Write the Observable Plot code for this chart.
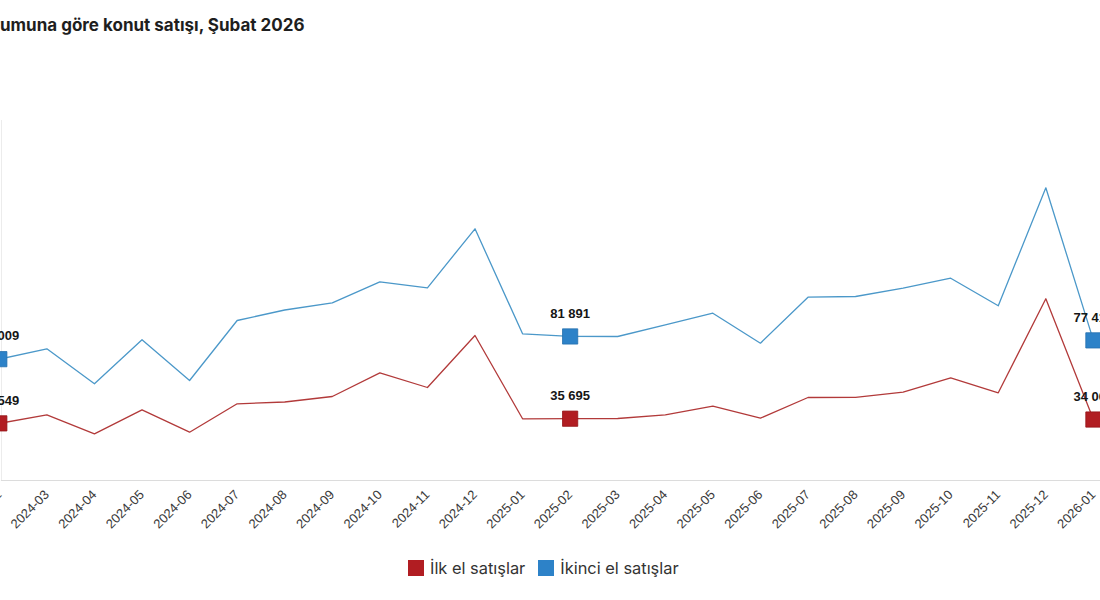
<!DOCTYPE html>
<html>
<head>
<meta charset="utf-8">
<script src="https://cdn.jsdelivr.net/npm/d3@7"></script>
<script src="https://cdn.jsdelivr.net/npm/@observablehq/plot@0.6"></script>
<style>
  html, body { margin: 0; padding: 0; background: #fff; overflow: hidden; width: 1100px; height: 600px; }
  #title { position: absolute; top: 15px; white-space: nowrap; font: 700 17px Inter, sans-serif; line-height: 20px; color: #1e1e1e; }
  #chart { position: absolute; top: 100px; }
  #chart svg { max-width: none !important; }
  #legend { position: absolute; top: 558px; left: 408px; display: flex; align-items: center; font: 400 16.4px Inter, sans-serif; color: #333; white-space: nowrap; }
  #legend .sw { display: inline-block; width: 16px; height: 16px; margin-right: 6px; }
  #legend .item { display: flex; align-items: center; margin-right: 13px; }
</style>
</head>
<body>
<div id="title">Satış durumuna göre konut satışı, Şubat 2026</div>
<div id="chart"></div>
<div id="legend"></div>
<script>
// ---- data ----
const months = ["2024-02","2024-03","2024-04","2024-05","2024-06","2024-07","2024-08","2024-09","2024-10","2024-11","2024-12",
  "2025-01","2025-02","2025-03","2025-04","2025-05","2025-06","2025-07","2025-08","2025-09","2025-10","2025-11","2025-12",
  "2026-01","2026-02"];
const ilkEl = [26549, 43310, 6146, 53090, 9275, 64826, 68347, 79105, 125462, 96709, 198421,
  35486, 35695, 36073, 43310, 60131, 36659, 77149, 77540, 87515, 115682, 86342, 270206, 34062];
const ikinciEl = [56009, 67817, 27935, 78072, 31695, 100065, 112030, 120234, 144163, 137326, 204557,
  84909, 81891, 81833, 95165, 108383, 74198, 126615, 127413, 136871, 148266, 116815, 251276, 77412];
const seriesNames = ["İlk el satışlar", "İkinci el satışlar"];
const seriesColors = ["#b11d22", "#2d82c8"];
const lineColors = ["#b23a3a", "#4b98c9"];
const labeledMonths = ["2024-02", "2025-02", "2026-01"];
// hidden dual value axes (left: ikinci el, right: ilk el)
const yDomainIkinci = [-82255, 327965];
const yDomainIlk = [-85199, 618961];

// ---- build ----
const rows = ikinciEl.map((v, i) => ({month: months[i], ilk: ilkEl[i], ikinci: v}));
const ilkToY = d3.scaleLinear(yDomainIlk, yDomainIkinci);
const fmt = d3.formatLocale({decimal: ",", thousands: " ", grouping: [3]}).format(",d");
const labeled = rows.filter(d => labeledMonths.includes(d.month));

const step = 47.57, ML = 60, MR = 40;
const x0 = ML - 2.2;
const W = Math.ceil(x0 + step * (months.length - 1) + MR);

const chart = Plot.plot({
  width: W,
  height: 460,
  marginLeft: ML,
  marginRight: MR,
  marginTop: 20,
  marginBottom: 80,
  style: {fontFamily: "'Liberation Sans', Arial, sans-serif", background: "transparent", overflow: "visible", maxWidth: "none"},
  x: {type: "point", domain: months, padding: 0, align: 0.5, round: false, range: [x0, x0 + step * (months.length - 1)], label: null},
  y: {domain: yDomainIkinci, axis: null},
  marks: [
    Plot.frame({anchor: "left", stroke: "#ececec"}),
    Plot.frame({anchor: "bottom", stroke: "#dcdcdc", strokeWidth: 1.2}),
    Plot.axisX({tickRotate: -45, tickSize: 0, tickPadding: 12, fontSize: 13, fill: "#3a3a3a", label: null}),
    Plot.lineY(rows, {x: "month", y: "ikinci", stroke: lineColors[1], strokeWidth: 1.3}),
    Plot.lineY(rows, {x: "month", y: d => ilkToY(d.ilk), stroke: lineColors[0], strokeWidth: 1.3}),
    Plot.dot(labeled, {x: "month", y: "ikinci", symbol: "square", r: 8.6, fill: seriesColors[1], stroke: "#2670ad", strokeWidth: 0.8}),
    Plot.dot(labeled, {x: "month", y: d => ilkToY(d.ilk), symbol: "square", r: 8.6, fill: seriesColors[0], stroke: "#931418", strokeWidth: 0.8}),
    Plot.text(labeled, {x: "month", y: "ikinci", text: d => fmt(d.ikinci), dy: -23, fontSize: 13, fontWeight: "bold", fill: "#161616"}),
    Plot.text(labeled, {x: "month", y: d => ilkToY(d.ilk), text: d => fmt(d.ilk), dy: -23, fontSize: 13, fontWeight: "bold", fill: "#161616"})
  ]
});
chart.style.maxWidth = "none";
chart.setAttribute("width", W);
chart.setAttribute("height", 460);
const holder = document.getElementById("chart");
holder.style.left = (1 - ML) + "px";
holder.style.width = W + "px";
holder.appendChild(chart);

// title: the chart is cropped on the left, as in the reference
const title = document.getElementById("title");
const ctx = document.createElement("canvas").getContext("2d");
ctx.font = "700 17px Inter";
title.style.left = (-ctx.measureText("Satış dur").width) + "px";

// legend
const legend = document.getElementById("legend");
seriesNames.forEach((name, i) => {
  const item = document.createElement("span");
  item.className = "item";
  const sw = document.createElement("span");
  sw.className = "sw";
  sw.style.background = seriesColors[i];
  item.appendChild(sw);
  item.appendChild(document.createTextNode(name));
  legend.appendChild(item);
});
</script>
</body>
</html>
